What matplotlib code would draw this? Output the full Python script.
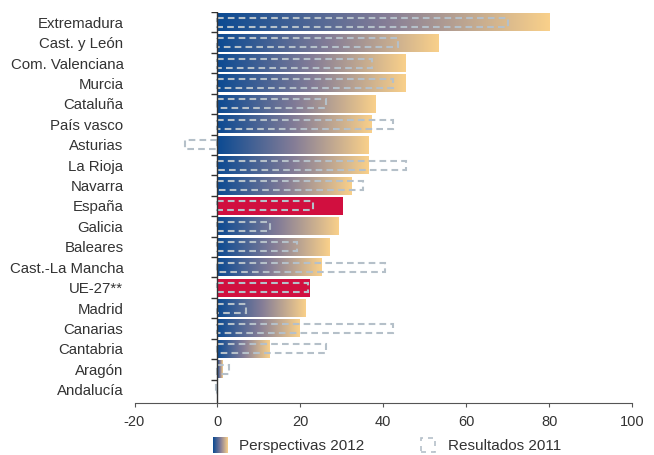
import numpy as np
import matplotlib.pyplot as plt
from matplotlib.colors import LinearSegmentedColormap
from matplotlib.patches import Rectangle

plt.rcParams['font.family'] = ['Liberation Sans', 'DejaVu Sans']
plt.rcParams['axes.unicode_minus'] = False

# data
regions = ['Extremadura', 'Cast. y León', 'Com. Valenciana', 'Murcia', 'Cataluña',
           'País vasco', 'Asturias', 'La Rioja', 'Navarra', 'España', 'Galicia',
           'Baleares', 'Cast.-La Mancha', 'UE-27**', 'Madrid', 'Canarias',
           'Cantabria', 'Aragón', 'Andalucía']
perspectivas_2012 = [80.2, 53.5, 45.5, 45.5, 38.3, 37.2, 36.6, 36.6, 32.4, 30.2,
                     29.3, 27.2, 25.3, 22.4, 21.4, 19.9, 12.7, 1.4, 0.0]
resultados_2011 = [70.0, 43.6, 37.2, 42.4, 26.3, 42.4, -7.8, 45.5, 35.2, 23.1,
                   12.7, 19.2, 40.5, 21.8, 6.9, 42.3, 26.3, 2.8, -0.4]
highlight = ['España', 'UE-27**']

blue_orange = LinearSegmentedColormap.from_list(
    'bo', ['#0b4a92', '#837c97', '#f9d08a'])
red = '#d10f3f'
dash_col = '#b5c0c9'
text_col = '#333333'

fig = plt.figure(figsize=(6.54, 4.55), dpi=100)
ax = fig.add_axes([134.5 / 654, 52 / 455, (632 - 134.5) / 654, 391 / 455])

n = len(regions)
grad = np.linspace(0, 1, 256).reshape(1, -1)
bar_h = 0.88
res_h = 0.44
for i, (name, v, r) in enumerate(zip(regions, perspectivas_2012, resultados_2011)):
    if name in highlight:
        ax.barh(i, v, height=bar_h, color=red, zorder=2)
    elif v > 0:
        ax.imshow(grad, cmap=blue_orange, aspect='auto', zorder=2,
                  extent=(0, v, i + bar_h / 2, i - bar_h / 2))
    ax.add_patch(Rectangle((0, i - res_h / 2), r, res_h, fill=False,
                           edgecolor=dash_col, lw=1.5, ls=(0, (3.2, 2)), zorder=3))

ax.set_xlim(-20, 100)
ax.set_ylim(n - 0.5 + 0.15, -0.5)
ax.axvline(0, color=text_col, lw=1, zorder=4)
ax.plot(np.zeros(n), np.arange(n) - 0.5, ls='none', marker=0, markersize=4,
        mew=1, color=text_col, zorder=4)

ax.set_yticks(range(n))
ax.set_yticklabels(regions, fontsize=10.8, color=text_col)
ax.tick_params(axis='y', length=0, pad=8)
ax.set_xticks([-20, 0, 20, 40, 60, 80, 100])
ax.tick_params(axis='x', length=3, direction='out', color='#555555',
               labelsize=10.5, labelcolor=text_col, pad=6)
for s in ['left', 'right', 'top']:
    ax.spines[s].set_visible(False)
ax.spines['bottom'].set_color('#555555')

# legend built by hand
lax = fig.add_axes([213 / 654, 2 / 455, 15 / 654, 16 / 455])
lax.imshow(grad, cmap=blue_orange, aspect='auto')
lax.axis('off')
fig.text(239 / 654, 9 / 455, 'Perspectivas 2012', fontsize=11,
         color=text_col, va='center')
fig.patches.append(Rectangle((421 / 654, 3 / 455), 14 / 654, 14 / 455,
                             transform=fig.transFigure, fill=False,
                             edgecolor=dash_col, lw=1.2, ls=(0, (3, 3))))
fig.text(448 / 654, 9 / 455, 'Resultados 2011', fontsize=11,
         color=text_col, va='center')

plt.savefig('out.png', dpi=100)
